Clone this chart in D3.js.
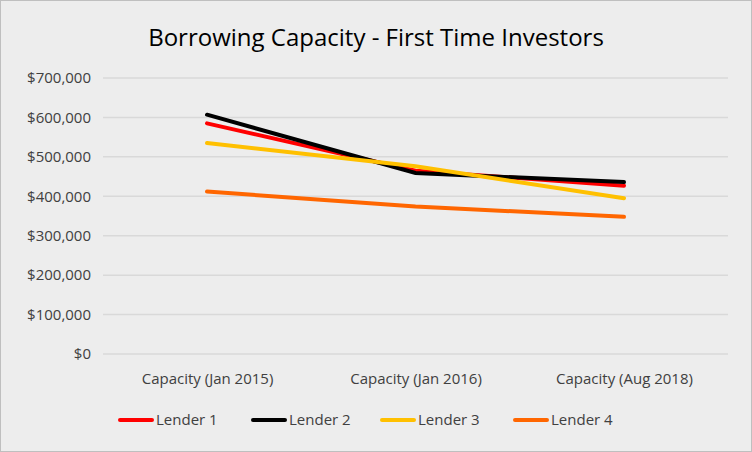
<!DOCTYPE html>
<html><head><meta charset="utf-8">
<script src="https://cdn.jsdelivr.net/npm/d3@7"></script>
<style>body{margin:0;background:#fff}svg{font-family:"Open Sans",sans-serif}</style>
</head><body><div id="chart"></div>
<script>
const categories = ["Capacity (Jan 2015)", "Capacity (Jan 2016)", "Capacity (Aug 2018)"];
const lender1 = [585000, 465000, 427000];
const lender2 = [607000, 459000, 436000];
const lender3 = [535000, 476000, 395000];
const lender4 = [412000, 374000, 348000];
const seriesNames = ["Lender 1", "Lender 2", "Lender 3", "Lender 4"];
const seriesColors = ["#ff0000", "#000000", "#ffc000", "#ff6600"];
const yTicks = [0, 100000, 200000, 300000, 400000, 500000, 600000, 700000];

const W = 752, H = 452;
const svg = d3.select("#chart").append("svg").attr("width", W).attr("height", H);
svg.append("rect").attr("x", 0.5).attr("y", 0.5).attr("width", W - 1).attr("height", H - 1)
    .attr("fill", "#ededed").attr("stroke", "#bfbfbf");

svg.append("text").attr("x", 376).attr("y", 46).attr("text-anchor", "middle")
    .attr("font-size", 24).attr("fill", "#000").text("Borrowing Capacity - First Time Investors");

const x = d3.scalePoint().domain(categories).range([207, 624]);
const y = d3.scaleLinear().domain([0, 700000]).range([354, 78]);

// gridlines
svg.append("g").selectAll("line").data(yTicks).enter().append("line")
    .attr("x1", 103).attr("x2", 728)
    .attr("y1", d => y(d)).attr("y2", d => y(d))
    .attr("stroke", "#d9d9d9").attr("stroke-width", 1.5);

const yAxis = svg.append("g").attr("transform", "translate(94,0)")
    .call(d3.axisLeft(y).tickValues(yTicks).tickSize(0).tickFormat(d => "$" + d3.format(",")(d)));
yAxis.select(".domain").remove();
yAxis.selectAll("text").attr("font-size", 15).attr("fill", "#404040").attr("font-family", "Open Sans");

const xAxis = svg.append("g").attr("transform", "translate(0,370)")
    .call(d3.axisBottom(x).tickSize(0));
xAxis.select(".domain").remove();
xAxis.selectAll("text").attr("font-size", 15).attr("fill", "#404040").attr("font-family", "Open Sans");

const allSeries = [lender1, lender2, lender3, lender4];
const line = d3.line().x((d, i) => x(categories[i])).y(d => y(d));
// orange first, yellow on top like the reference
[3, 0, 1, 2].forEach(k => {
    svg.append("path").datum(allSeries[k]).attr("d", line)
        .attr("fill", "none").attr("stroke", seriesColors[k])
        .attr("stroke-width", 4).attr("stroke-linecap", "round");
});

const legX = [120, 253, 382, 515];
const leg = svg.append("g").selectAll("g").data(seriesNames).enter().append("g")
    .attr("transform", (d, i) => "translate(" + legX[i] + ",420)");
leg.append("line").attr("x1", 0).attr("x2", 32).attr("stroke", (d, i) => seriesColors[i])
    .attr("stroke-width", 4).attr("stroke-linecap", "round");
leg.append("text").attr("x", 36).attr("y", 5).attr("font-size", 15).attr("fill", "#404040").text(d => d);
</script></body></html>
